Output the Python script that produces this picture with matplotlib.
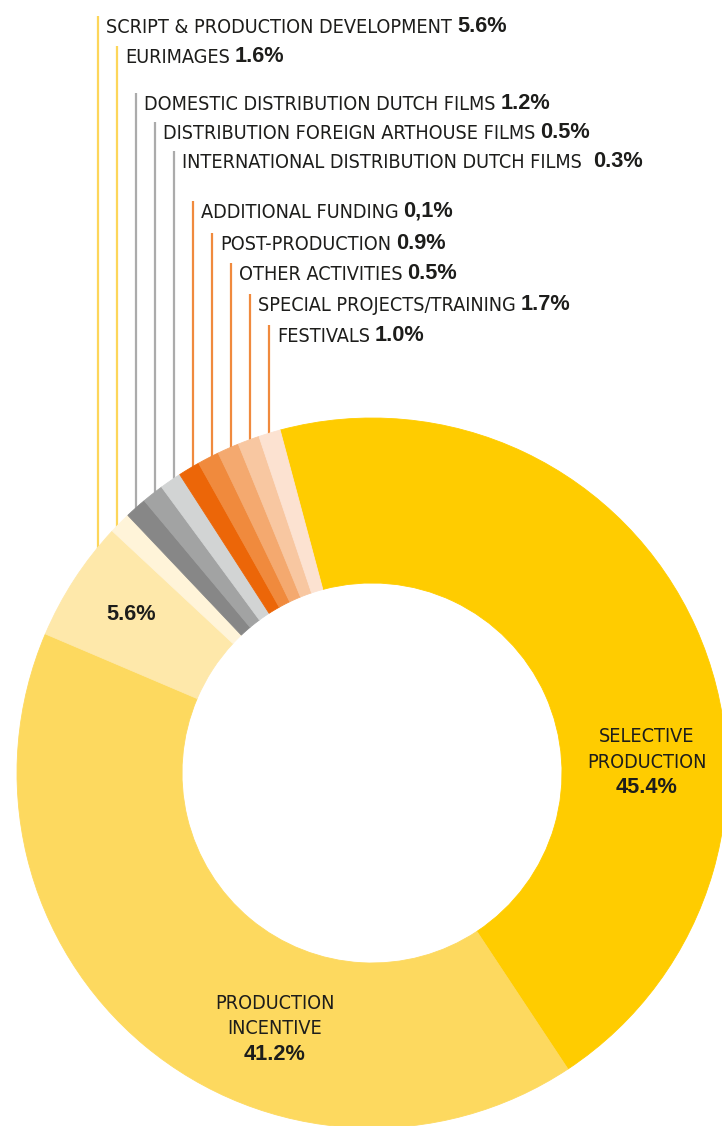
import matplotlib
matplotlib.use('Agg')
import matplotlib.pyplot as plt
from matplotlib import font_manager
import numpy as np
import os

# ---- data ----
categories = ['SELECTIVE PRODUCTION', 'PRODUCTION INCENTIVE', 'SCRIPT & PRODUCTION DEVELOPMENT',
              'EURIMAGES', 'DOMESTIC DISTRIBUTION DUTCH FILMS', 'DISTRIBUTION FOREIGN ARTHOUSE FILMS',
              'INTERNATIONAL DISTRIBUTION DUTCH FILMS', 'ADDITIONAL FUNDING', 'POST-PRODUCTION',
              'OTHER ACTIVITIES', 'SPECIAL PROJECTS/TRAINING', 'FESTIVALS']
shares = [45.4, 41.2, 5.6, 1.6, 1.2, 0.5, 0.3, 0.1, 0.9, 0.5, 1.7, 1.0]
share_labels = ['45.4%', '41.2%', '5.6%', '1.6%', '1.2%', '0.5%', '0.3%', '0,1%',
                '0.9%', '0.5%', '1.7%', '1.0%']

# ---- styles ----
slice_colors = ['#FFCC00', '#FDD95F', '#FEE8AA', '#FFF4D9', '#878787', '#A2A3A3', '#D2D4D4',
                '#EC6608', '#F08A3D', '#F4A96F', '#F8C7A1', '#FCE2D1']
leader_colors = ['#FDD65A'] * 2 + ['#ABABAB'] * 3 + ['#F08A3E'] * 5
text_color = '#1d1d1b'
value_font = ['Liberation Sans', 'DejaVu Sans']
fs = 15.7

# the original uses a condensed face: take one if the system has it, else Roboto
name_props = dict(family=['Roboto', 'DejaVu Sans'])
for f in font_manager.fontManager.ttflist:
    base = os.path.splitext(os.path.basename(f.fname))[0]
    if base.endswith(('Condensed', 'Narrow', 'Condensed-Regular', 'Narrow-Regular', 'CondensedRegular')):
        name_props = dict(family=[f.name, 'DejaVu Sans'], stretch=f.stretch)
        break

W, H = 722, 1126          # canvas in pixels, y measured from the top below
cx, cy, R = 372, 773, 355  # donut centre and outer radius
ring = 165                 # ring width

# small items are drawn with the same minimum width so they stay visible
min_slice = 1.0
drawn = np.where(np.array(shares) < 2, min_slice, shares)

fig = plt.figure(figsize=(W / 100, H / 100), dpi=100)
ax = fig.add_axes([0, 0, 1, 1])

wedges, _ = ax.pie(drawn, colors=slice_colors, startangle=105, counterclock=False,
                   center=(cx, H - cy), radius=R, frame=True,
                   wedgeprops=dict(width=ring, linewidth=0.6))
for w in wedges:
    w.set_edgecolor(w.get_facecolor())
ax.set_xlim(0, W)
ax.set_ylim(0, H)
ax.axis('off')

# size the name font so the longest label keeps its width (~345 px)
renderer = fig.canvas.get_renderer()
probe = ax.text(0, 0, categories[2], fontsize=fs, **name_props)
name_fs = min(fs * 345 / probe.get_window_extent(renderer).width, 17)
probe.remove()

# ---- leader labels for the small items (from index 2 on) ----
line_x = [98, 117, 136, 155, 174, 193, 212, 231, 250, 269]
baselines = [33, 63, 110, 139, 168, 218, 250, 280, 311, 342]
gaps = [5, 5, 5, 5, 11, 5, 5, 5, 5, 5]

for i, (lx, base, gap) in enumerate(zip(line_x, baselines, gaps)):
    k = i + 2
    # line stops on the outer edge of the ring
    y_end = (H - cy) + np.sqrt(R ** 2 - (lx - cx) ** 2) - 3
    ax.plot([lx, lx], [H - base + 17, y_end], color=leader_colors[i], lw=1.6,
            solid_capstyle='butt', zorder=0)
    t = ax.text(lx + 8, H - base, categories[k], fontsize=name_fs,
                color=text_color, ha='left', va='baseline', **name_props)
    ax.annotate(share_labels[k], xy=(1, 0), xycoords=t, xytext=(gap * 0.72, 0),
                textcoords='offset points', family=value_font, fontweight='bold',
                fontsize=fs, color=text_color, ha='left', va='bottom')

# ---- labels inside the ring ----
inner = [(0, 646.7, [742, 768, 793], ['SELECTIVE', 'PRODUCTION']),
         (1, 275, [1009, 1034, 1060], ['PRODUCTION', 'INCENTIVE']),
         (2, 130.7, [620], [])]
for k, x, bases, words in inner:
    for word, base in zip(words, bases):
        ax.text(x, H - base, word, fontsize=name_fs, color=text_color,
                ha='center', va='baseline', **name_props)
    ax.text(x, H - bases[-1], share_labels[k], family=value_font, fontweight='bold',
            fontsize=fs, color=text_color, ha='center', va='baseline')

fig.savefig('out.png', dpi=100)
